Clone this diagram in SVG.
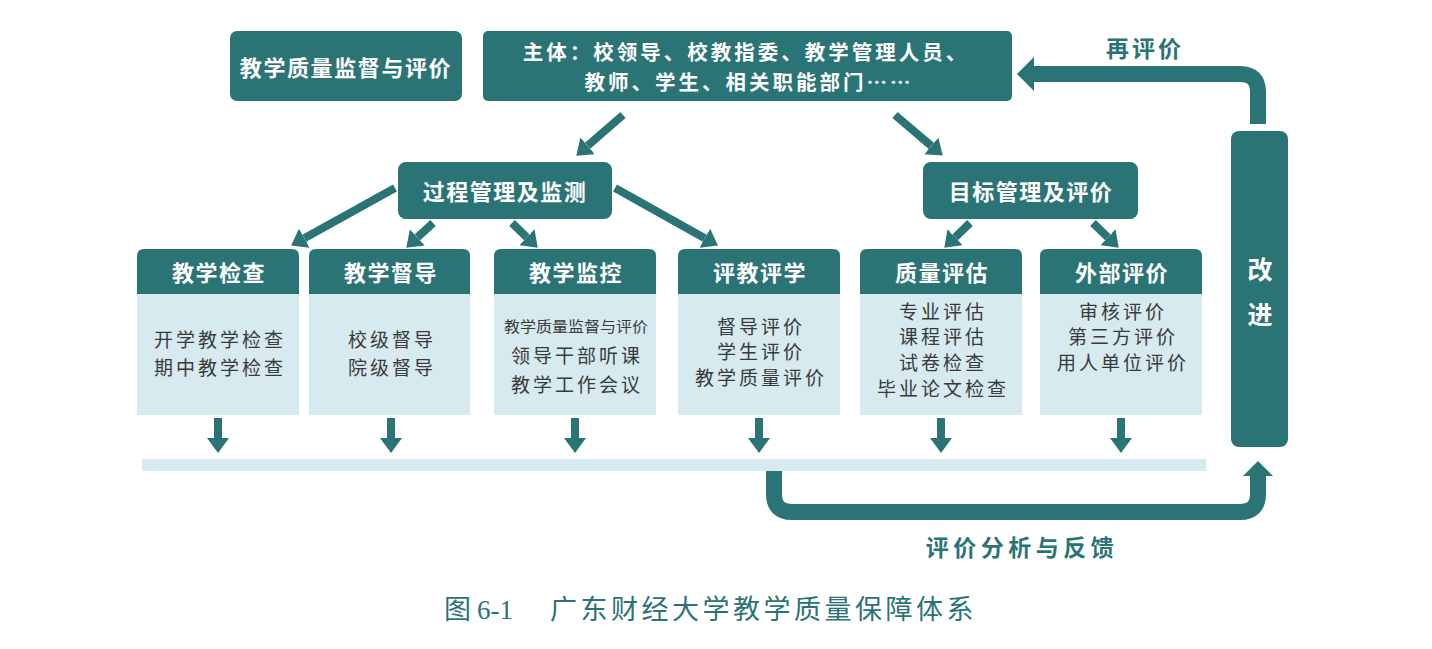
<svg xmlns="http://www.w3.org/2000/svg" width="1432" height="649" viewBox="0 0 1432 649">
<defs>
<style>
.teal{fill:#2b7476}
.light{fill:#d6eaef}
.hd{font-family:"Noto Sans CJK SC","Noto Sans",sans-serif;font-weight:bold;fill:#fff;text-anchor:middle;dominant-baseline:central}
.bd{font-family:"Noto Sans CJK SC","Noto Sans",sans-serif;font-size:19px;letter-spacing:3px;fill:#3a3a3a;text-anchor:middle;dominant-baseline:central}
.sm{font-family:"Noto Sans CJK SC","Noto Sans",sans-serif;font-size:15px;fill:#3a3a3a;text-anchor:middle;dominant-baseline:central}
.lbl{font-family:"Noto Sans CJK SC","Noto Sans",sans-serif;font-weight:bold;font-size:23px;fill:#2b7476;text-anchor:middle;dominant-baseline:central}
.ln{stroke:#2b7476;stroke-width:8;fill:none;marker-end:url(#ah)}
.big{stroke:#2b7476;stroke-width:16;fill:none}
</style>
<marker id="ah" markerUnits="userSpaceOnUse" markerWidth="16" markerHeight="22" viewBox="0 0 16 22" refX="0" refY="11" orient="auto">
<path d="M0,0 L15,11 L0,22 z" fill="#2b7476"/>
</marker>
</defs>
<rect width="1432" height="649" fill="#fff"/>

<g id="title-box">
<rect x="230" y="31" width="232" height="70" rx="7" class="teal"/>
<text x="346" y="66" class="hd" font-size="22" letter-spacing="1.6">教学质量监督与评价</text>
</g>

<g id="subject-box">
<rect x="483" y="31" width="529" height="70" rx="5" class="teal"/>
<text x="746" y="51" class="hd" font-size="20.5" letter-spacing="3">主体：校领导、校教指委、教学管理人员、</text>
<text x="749" y="81" class="hd" font-size="20.5" letter-spacing="3">教师、学生、相关职能部门……</text>
</g>

<g id="process-box">
<rect x="398" y="162" width="214" height="57" rx="8" class="teal"/>
<text x="505" y="190" class="hd" font-size="22" letter-spacing="1.5">过程管理及监测</text>
</g>

<g id="target-box">
<rect x="923" y="162" width="215" height="57" rx="8" class="teal"/>
<text x="1031" y="190" class="hd" font-size="22" letter-spacing="1.5">目标管理及评价</text>
</g>

<g id="box-check">
<path d="M137,294 V256 Q137,249 144,249 H292 Q299,249 299,256 V294 z" class="teal"/>
<rect x="137" y="294" width="162" height="121" class="light"/>
<text x="219" y="271" class="hd" font-size="22" letter-spacing="1.5">教学检查</text>
<text x="220" y="338" class="bd">开学教学检查</text>
<text x="220" y="366" class="bd">期中教学检查</text>
</g>

<g id="box-supervise">
<path d="M309,294 V256 Q309,249 316,249 H463 Q470,249 470,256 V294 z" class="teal"/>
<rect x="309" y="294" width="161" height="121" class="light"/>
<text x="391" y="271" class="hd" font-size="22" letter-spacing="1.5">教学督导</text>
<text x="392" y="338" class="bd">校级督导</text>
<text x="392" y="366" class="bd">院级督导</text>
</g>

<g id="box-monitor">
<path d="M494,294 V256 Q494,249 501,249 H649 Q656,249 656,256 V294 z" class="teal"/>
<rect x="494" y="294" width="162" height="121" class="light"/>
<text x="576" y="271" class="hd" font-size="22" letter-spacing="1.5">教学监控</text>
<text x="576" y="325" class="sm" textLength="144" lengthAdjust="spacingAndGlyphs">教学质量监督与评价</text>
<text x="577" y="354" class="bd">领导干部听课</text>
<text x="577" y="383" class="bd">教学工作会议</text>
</g>

<g id="box-evaluate">
<path d="M678,294 V256 Q678,249 685,249 H833 Q840,249 840,256 V294 z" class="teal"/>
<rect x="678" y="294" width="162" height="121" class="light"/>
<text x="760" y="271" class="hd" font-size="22" letter-spacing="1.5">评教评学</text>
<text x="761" y="325" class="bd">督导评价</text>
<text x="761" y="350" class="bd">学生评价</text>
<text x="761" y="376" class="bd">教学质量评价</text>
</g>

<g id="box-quality">
<path d="M860,294 V256 Q860,249 867,249 H1015 Q1022,249 1022,256 V294 z" class="teal"/>
<rect x="860" y="294" width="162" height="121" class="light"/>
<text x="942" y="271" class="hd" font-size="22" letter-spacing="1.5">质量评估</text>
<text x="943" y="310" class="bd">专业评估</text>
<text x="943" y="335" class="bd">课程评估</text>
<text x="943" y="361" class="bd">试卷检查</text>
<text x="943" y="387" class="bd">毕业论文检查</text>
</g>

<g id="box-external">
<path d="M1040,294 V256 Q1040,249 1047,249 H1195 Q1202,249 1202,256 V294 z" class="teal"/>
<rect x="1040" y="294" width="162" height="121" class="light"/>
<text x="1122" y="271" class="hd" font-size="22" letter-spacing="1.5">外部评价</text>
<text x="1123" y="310" class="bd">审核评价</text>
<text x="1123" y="335" class="bd">第三方评价</text>
<text x="1123" y="361" class="bd">用人单位评价</text>
</g>

<g id="improve-box">
<rect x="1231" y="131" width="57" height="316" rx="8" class="teal"/>
<text x="1260" y="268" class="hd" font-size="25">改</text>
<text x="1260" y="313" class="hd" font-size="25">进</text>
</g>

<g id="collect-bar">
<rect x="142" y="459" width="1064" height="12" class="light"/>
</g>

<g id="connectors">
<line x1="623" y1="115" x2="587.6" y2="145.8" class="ln"/>
<line x1="895" y1="115" x2="931.3" y2="145.9" class="ln"/>
<line x1="395" y1="188" x2="304.3" y2="238.2" class="ln"/>
<line x1="433" y1="223" x2="417.3" y2="237.5" class="ln"/>
<line x1="512" y1="223" x2="526.9" y2="237.3" class="ln"/>
<line x1="615" y1="188" x2="704.8" y2="238.2" class="ln"/>
<line x1="970" y1="223" x2="955.1" y2="237.3" class="ln"/>
<line x1="1093" y1="223" x2="1107.9" y2="237.3" class="ln"/>

<line x1="218" y1="418" x2="218" y2="438" class="ln"/>
<line x1="391" y1="418" x2="391" y2="438" class="ln"/>
<line x1="575" y1="418" x2="575" y2="438" class="ln"/>
<line x1="759" y1="418" x2="759" y2="438" class="ln"/>
<line x1="941" y1="418" x2="941" y2="438" class="ln"/>
<line x1="1121" y1="418" x2="1121" y2="438" class="ln"/>

<path d="M1258,124 V92 Q1258,74 1240,74 H1032" class="big"/>
<path d="M1034,57 L1017,74 L1034,91 z" class="teal"/>

<path d="M774,471 V494 Q774,512 792,512 H1240 Q1258,512 1258,494 V475" class="big"/>
<path d="M1243,476 L1258,461 L1273,476 z" class="teal"/>
</g>

<text x="1145" y="47" class="lbl" letter-spacing="3">再评价</text>
<text x="1022" y="546" class="lbl" letter-spacing="4.5">评价分析与反馈</text>

<text x="444" y="619" font-family="'Liberation Serif','Noto Sans CJK SC',serif" font-size="27" fill="#2b7476">图<tspan x="477">6-1</tspan><tspan x="550" letter-spacing="3.5">广东财经大学教学质量保障体系</tspan></text>
</svg>
